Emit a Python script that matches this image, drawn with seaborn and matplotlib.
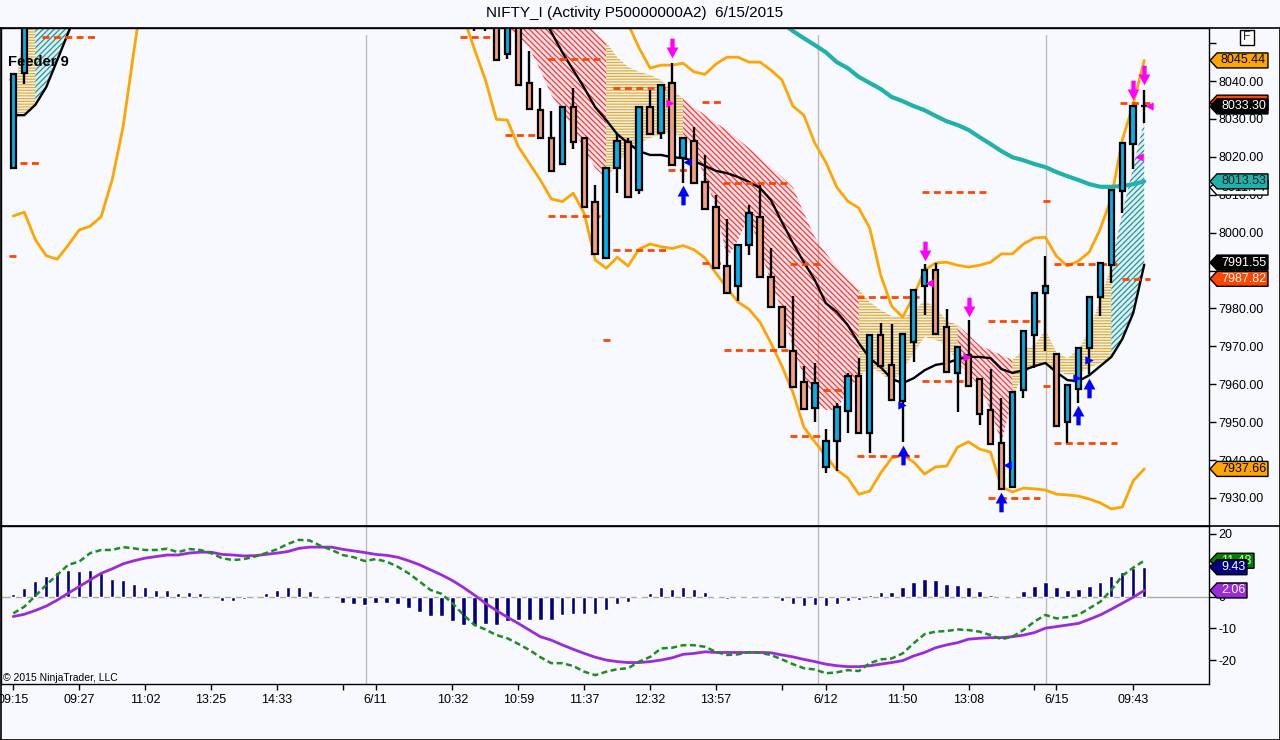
import numpy as np
import matplotlib
matplotlib.use("Agg")
import matplotlib.pyplot as plt
import seaborn as sns
from matplotlib.patches import Polygon, Rectangle
from matplotlib.path import Path
from matplotlib.transforms import IdentityTransform
from matplotlib.lines import Line2D
from matplotlib.colors import to_rgba

# ---------------- data ----------------
candle_bars = [0, 1] + list(range(42, 104))
opens = [8017.1, 8042.2,
         8062.0, 8061.0, 8058.0, 8047.1, 8056.0, 8039.6, 8032.3, 8025.1,
         8018.1, 8033.2, 8025.1, 8008.2, 7993.4, 8017.0, 8024.0, 8011.2, 8033.2, 8026.4,
         8039.4, 8019.6, 8024.2, 8013.4, 8006.8, 7991.3, 7985.9, 7996.7, 8004.2, 7988.2,
         7980.3, 7968.8, 7960.7, 7953.8, 7938.1, 7945.1, 7952.9, 7962.2, 7947.2, 7973.0,
         7965.1, 7955.6, 7971.2, 7985.9, 7990.1, 7975.2, 7963.0, 7967.7, 7961.4, 7953.2,
         7944.6, 7933.0, 7958.5, 7973.0, 7984.1, 7968.0, 7950.1, 7958.7, 7969.5, 7983.1,
         7991.5, 8011.0, 8023.4, 8033.3]
highs = [8041.8, 8058.0,
         8065.0, 8064.0, 8060.0, 8058.0, 8057.0, 8047.9, 8038.1, 8032.1,
         8033.2, 8038.1, 8025.1, 8012.6, 8017.1, 8026.4, 8024.9, 8033.2, 8037.6, 8038.9,
         8044.8, 8025.1, 8027.9, 8020.5, 8009.9, 8003.5, 7996.7, 8007.3, 8012.6, 7996.0,
         7980.3, 7983.3, 7964.8, 7965.7, 7948.1, 7955.1, 7962.9, 7966.8, 7973.0, 7976.1,
         7975.8, 7973.2, 7984.9, 7991.6, 7991.9, 7979.8, 7969.9, 7976.9, 7961.4, 7963.9,
         7956.3, 7957.9, 7974.1, 7984.1, 7993.8, 7968.0, 7959.8, 7969.6, 7983.1, 7992.1,
         8011.2, 8023.7, 8033.4, 8037.6]
lows = [8017.1, 8039.2,
        8053.2, 8053.3, 8045.5, 8045.7, 8038.9, 8032.5, 8025.1, 8016.3,
        8018.1, 8022.2, 8006.8, 7994.4, 7993.4, 8010.4, 8009.3, 8010.2, 8026.0, 8024.6,
        8017.8, 8013.2, 8013.0, 8006.2, 7990.8, 7984.0, 7982.0, 7994.1, 7988.4, 7980.3,
        7969.9, 7959.3, 7953.6, 7950.1, 7936.5, 7937.2, 7947.2, 7947.2, 7941.8, 7964.8,
        7955.8, 7944.7, 7966.0, 7978.3, 7973.2, 7963.3, 7952.8, 7959.6, 7949.2, 7944.2,
        7932.3, 7933.0, 7956.3, 7964.2, 7968.8, 7949.0, 7944.5, 7955.1, 7962.7, 7978.0,
        7986.6, 8005.1, 8016.7, 8029.0]
closes = [8041.8, 8056.0,
          8058.0, 8057.0, 8045.5, 8056.0, 8038.9, 8032.5, 8025.1, 8016.3,
          8033.2, 8024.0, 8006.8, 7994.4, 8017.1, 8024.2, 8009.3, 8033.2, 8026.0, 8038.9,
          8017.8, 8025.1, 8013.0, 8006.2, 7990.8, 7984.0, 7996.7, 8005.1, 7988.4, 7980.3,
          7969.9, 7959.3, 7953.6, 7960.4, 7945.1, 7954.1, 7962.2, 7947.2, 7973.0, 7964.8,
          7955.8, 7973.2, 7984.9, 7990.1, 7973.2, 7963.3, 7969.9, 7959.6, 7952.1, 7944.2,
          7932.3, 7957.9, 7974.1, 7984.1, 7986.0, 7949.0, 7959.8, 7969.6, 7983.1, 7992.1,
          8011.2, 8023.7, 8033.4, 8033.3]

# lower / upper envelope (orange)
lower_band_day1_start = 0
lower_band_day1 = [8004.4, 8005.4, 7998.2, 7993.9, 7993.0, 7996.7, 8000.7, 8001.7,
                   8004.2, 8013.9, 8027.9, 8048.2, 8068.0]
lower_band_start = 41
lower_band = [8057.0, 8048.4, 8040.3, 8029.9, 8029.7, 8022.7, 8018.3, 8013.9, 8008.9,
              8008.2, 8010.4, 8005.1, 7992.8, 7990.6, 7993.5, 7991.2, 7995.7, 7997.0,
              7996.3, 7995.8, 7996.6, 7995.5, 7993.3, 7989.3, 7985.4, 7981.7, 7979.8,
              7976.4, 7970.9, 7964.8, 7957.9, 7948.7, 7944.8, 7941.1, 7937.4, 7935.3,
              7931.0, 7931.8, 7936.6, 7940.5, 7941.3, 7939.5, 7936.3, 7938.2, 7938.4,
              7943.4, 7944.8, 7942.9, 7942.1, 7932.9, 7931.6, 7932.6, 7932.4, 7932.1,
              7931.0, 7930.8, 7930.5, 7929.7, 7928.7, 7927.1, 7927.6, 7934.5, 7937.66]
upper_band_start = 55
upper_band = [8064.0, 8055.0, 8048.7, 8043.4, 8044.2, 8044.2, 8044.7, 8042.4, 8041.8,
              8044.5, 8046.3, 8046.3, 8045.0, 8045.0, 8042.9, 8040.3, 8033.4, 8031.0,
              8023.6, 8018.6, 8012.0, 8008.3, 8006.5, 8001.2, 7988.8, 7980.6, 7977.7,
              7983.3, 7990.1, 7992.0, 7992.2, 7991.4, 7990.9, 7991.4, 7992.2, 7994.4,
              7994.4, 7997.0, 7998.6, 7998.8, 7993.8, 7991.2, 7992.5, 7994.9, 8001.0,
              8009.1, 8024.4, 8033.9, 8045.44]
# slow moving average (teal)
slow_ma_start = 70
slow_ma = [8055.5, 8053.2, 8051.3, 8049.5, 8047.6, 8045.0, 8043.4, 8041.1, 8039.5,
           8037.9, 8035.8, 8034.7, 8033.4, 8032.3, 8030.8, 8029.4, 8028.4, 8027.1,
           8025.2, 8023.4, 8021.5, 8019.9, 8019.1, 8018.1, 8017.3, 8016.0, 8014.9,
           8013.9, 8012.8, 8012.1, 8012.1, 8012.3, 8012.8, 8013.53]
# black moving average
black_ma_day1_start = 0
black_ma_day1 = [8031.0, 8031.0, 8033.7, 8038.4, 8045.5, 8052.7, 8060.0]
black_ma_start = 48
black_ma = [8058.2, 8052.9, 8047.6, 8042.9, 8038.2, 8033.1, 8029.7, 8026.0, 8023.6,
            8021.5, 8020.5, 8020.5, 8019.9, 8019.7, 8018.9, 8017.6, 8016.3, 8015.7,
            8014.7, 8013.4, 8011.8, 8008.6, 8002.8, 7997.3, 7992.2, 7987.5, 7981.4,
            7979.1, 7975.6, 7970.9, 7966.9, 7964.5, 7961.4, 7960.3, 7961.6, 7963.7,
            7965.1, 7965.6, 7966.6, 7967.2, 7967.2, 7966.9, 7964.0, 7963.0, 7963.7,
            7964.8, 7965.6, 7963.2, 7961.1, 7960.8, 7962.4, 7964.8, 7967.2, 7971.9,
            7978.8, 7991.55]
# ribbon outer edges and trend colour per segment (r=down, g=mixed, t=up)
ribbon_day1_start = 0
ribbon_day1_upper = [8032.9, 8056.1, 8058.7, 8058.7, 8058.7, 8058.7, 8058.7]
ribbon_day1_lower = [8031.5, 8031.0, 8033.9, 8038.4, 8045.3, 8052.7, 8058.7]
ribbon_day1_trend = "ggtttt"
ribbon_start = 41
ribbon_upper = [8058.7] * 10 + [
    8058.2, 8055.6, 8052.9, 8050.3, 8046.3, 8043.7, 8042.4, 8041.6, 8040.3, 8037.6,
    8035.5, 8033.1, 8031.0, 8028.9, 8027.1, 8024.7, 8022.3, 8019.9, 8017.3, 8014.7,
    8012.0, 8005.2, 7998.8, 7994.6, 7990.9, 7988.0, 7985.1, 7981.7, 7979.6, 7978.0,
    7977.7, 7979.1, 7982.2, 7980.1, 7976.9, 7975.6, 7973.0, 7970.3, 7969.0, 7967.7,
    7966.4, 7969.0, 7970.3, 7974.3, 7968.5, 7966.9, 7969.0, 7974.3, 7982.2, 7991.4,
    8005.2, 8017.3, 8029.7]
ribbon_lower = [8058.7, 8057.4, 8055.6, 8054.0, 8053.5, 8052.1, 8048.7, 8042.9, 8036.3,
                8032.1, 8027.6, 8021.8, 8017.0, 8014.4, 8017.8, 8021.8, 8023.6, 8025.0,
                8025.8, 8027.1, 8024.4, 8023.1, 8013.9, 8006.8, 7993.3, 7998.0, 8004.6,
                7995.4, 7987.0, 7979.6, 7969.8, 7961.9, 7955.8, 7953.2, 7953.2, 7958.5,
                7961.9, 7964.5, 7963.0, 7960.6, 7963.7, 7968.2, 7972.5, 7971.7, 7970.3,
                7965.6, 7963.0, 7959.3, 7953.2, 7944.5, 7956.6, 7963.0, 7964.5, 7965.6,
                7963.7, 7962.4, 7963.0, 7964.3, 7965.6, 7966.9, 7971.7, 7978.8, 7990.9]
ribbon_trend = "r" * 13 + "g" * 7 + "r" * 16 + "g" * 9 + "r" * 5 + "g" * 9 + "t" * 3

# dashed pivot levels
level_start = [-0.4, -0.4, 0.6, 2.6, 40.7, 44.8, 48.7, 48.7, 53.7, 54.6, 54.6, 59.6,
               62.7, 62.7, 64.6, 64.7, 70.7, 70.7, 73.7, 76.8, 76.8, 82.8, 82.8, 88.8,
               88.8, 93.8, 93.8, 94.8, 94.8, 100.8, 101.0]
level_end = [0.3, 0.3, 2.4, 7.4, 43.7, 48.2, 53.4, 53.4, 54.5, 59.5, 59.5, 61.8,
             64.5, 64.5, 70.6, 70.6, 73.7, 73.7, 75.9, 82.5, 82.5, 88.6, 86.9, 93.5,
             93.5, 94.6, 94.6, 100.5, 100.5, 103.5, 103.5]
level_price = [8040.5, 7993.9, 8018.4, 8051.7, 8051.7, 8025.8, 8045.8, 8004.4, 7971.7,
               8038.2, 7995.4, 8016.5, 8034.5, 7992.1, 8013.2, 7969.0, 7991.6, 7946.3,
               7958.5, 7983.1, 7941.1, 8010.8, 7960.8, 7976.8, 7930.1, 8008.4, 7959.6,
               7991.7, 7944.4, 8034.3, 7987.8]

# signals
sell_arrow_x = [60, 83, 87, 102, 103]
sell_arrow_y = [8048.6, 7995.2, 7980.4, 8037.6, 8041.6]
buy_arrow_x = [61, 81, 90, 97, 98]
buy_arrow_y = [8009.9, 7941.3, 7929.0, 7951.9, 7958.9]
pink_tri_x = [59.8, 83.4, 86.9, 102.5, 103.4]
pink_tri_y = [8034.1, 7986.6, 7967.3, 8020.0, 8033.4]
pink_tri_dir = [">", "<", ">", "<", "<"]
blue_tri_x = [61.4, 80.9, 90.5, 96.9, 98.0]
blue_tri_y = [8018.7, 7954.5, 7938.7, 7961.7, 7966.4]
blue_tri_dir = ["<", ">", "<", ">", ">"]

# MACD panel
macd_hist = [1.06, 2.96, 5.2, 6.8, 8.0, 8.7, 8.1, 8.4, 7.6, 5.8,
             5.5, 4.2, 3.0, 2.3, 2.3, 1.2, 1.7, 1.2, 0.0, -1.4,
             -1.4, -0.8, 0.0, 1.4, 2.3, 3.0, 3.0, 2.0, 0.4, -0.4,
             -1.8, -2.1, -2.4, -1.8, -1.8, -2.2, -3.6, -4.9, -6.1, -6.1,
             -7.7, -8.8, -9.3, -8.6, -8.8, -7.5, -7.2, -7.4, -7.4, -7.4,
             -5.8, -5.4, -5.4, -5.4, -4.0, -2.1, -1.7, 0.4, 1.4, 3.0,
             2.6, 3.0, 2.6, 1.7, 0.4, -0.6, -0.3, 0.3, 0.0, -0.4,
             -1.3, -2.2, -3.0, -2.7, -3.0, -2.3, -1.2, -1.1, 0.7, 1.7,
             1.7, 3.0, 4.6, 5.8, 5.5, 4.2, 3.9, 3.0, 2.0, 0.7,
             -0.4, 0.3, 2.0, 3.6, 4.9, 3.0, 2.3, 2.6, 3.6, 4.9,
             6.5, 8.0, 9.2, 9.43]
macd_line = [-5.2, -3.1, 0.3, 3.8, 7.0, 10.2, 11.2, 13.9, 14.9, 14.9,
             15.8, 15.4, 14.9, 14.9, 15.3, 14.2, 15.2, 14.9, 13.9, 12.3,
             11.7, 12.0, 12.8, 13.9, 15.1, 16.8, 18.1, 17.9, 16.2, 14.9,
             13.3, 12.6, 11.4, 12.0, 11.2, 9.6, 7.5, 4.9, 2.2, 1.0,
             -2.0, -5.7, -8.9, -10.3, -12.1, -13.1, -14.9, -16.8, -19.1, -21.0,
             -21.0, -21.9, -23.7, -24.8, -23.7, -22.9, -22.6, -20.5, -19.0, -16.3,
             -16.1, -15.3, -15.3, -15.8, -17.4, -18.4, -18.2, -17.5, -17.7, -18.4,
             -19.8, -21.3, -22.6, -23.0, -24.2, -23.9, -23.2, -23.5, -21.0, -19.8,
             -19.5, -17.9, -14.7, -11.8, -11.0, -10.8, -10.3, -10.5, -11.0, -12.1,
             -13.4, -12.6, -10.5, -7.8, -5.7, -6.8, -6.4, -5.7, -3.6, -1.5,
             2.2, 6.7, 9.3, 11.48]
macd_signal = [-6.2, -5.5, -4.3, -2.9, -1.0, 1.2, 3.3, 5.4, 7.5, 8.9,
               10.5, 11.5, 12.3, 12.8, 13.3, 13.3, 13.9, 14.2, 14.2, 13.5,
               13.3, 13.0, 13.1, 13.5, 13.9, 14.4, 15.4, 15.8, 15.8, 15.8,
               15.1, 14.6, 14.1, 13.5, 13.2, 12.6, 11.5, 10.2, 8.6, 7.0,
               5.2, 3.0, 0.6, -2.0, -4.3, -6.4, -8.4, -10.5, -12.6, -13.7,
               -15.2, -16.6, -17.9, -19.1, -20.0, -20.5, -20.8, -20.8, -20.5, -20.0,
               -19.3, -18.2, -17.9, -17.4, -17.6, -17.6, -17.6, -17.6, -17.6, -17.7,
               -18.4, -19.0, -19.8, -20.5, -21.3, -21.8, -22.1, -22.1, -21.8, -21.3,
               -20.8, -20.2, -18.7, -17.6, -16.1, -15.2, -14.5, -13.4, -13.1, -12.9,
               -12.9, -12.6, -12.1, -11.3, -9.9, -9.4, -8.9, -8.4, -7.1, -5.7,
               -3.9, -2.0, -0.1, 2.06]

tick_pos = [0, 6, 12, 18, 24, 30, 33, 40, 46, 52, 58, 64, 70, 74, 81, 87, 93, 95, 102]
tick_labels = ["09:15", "09:27", "11:02", "13:25", "14:33", "", "6/11", "10:32", "10:59",
               "11:37", "12:32", "13:57", "", "6/12", "11:50", "13:08", "", "6/15", "09:43"]
day_breaks = [32.1, 73.3, 94.1]
price_ticks = [7930, 7940, 7950, 7960, 7970, 7980, 7990, 8000, 8010, 8020, 8030, 8040, 8050]
macd_ticks = [-20, -10, 0, 10, 20]
macd_tick_labels = ["-20", "-10", "0", "", "20"]   # "10" is hidden behind the value tags

# ---------------- style ----------------
sns.set_theme(style="white")
plt.rcParams["font.family"] = ["Liberation Sans", "DejaVu Sans"]
plt.rcParams["hatch.linewidth"] = 0.85

BG = "#F7F9FE"
UP = "#00B2EE"
DOWN = "#F2A07E"
ORANGE = "#FFA500"
LEVEL = "#FF4500"
TEAL = "#20B2AA"
TREND = {"r": "#FF1A1A", "g": "#DAA520", "t": "#008B8B"}
HATCH = {"r": "\\\\\\\\\\\\", "g": "------", "t": "//////"}

W, H = 1280, 740
fig = plt.figure(figsize=(W / 100, H / 100), dpi=100, facecolor=BG)
ax = fig.add_axes([1 / W, 1 - 526 / H, 1208 / W, (526 - 28) / H])
axm = fig.add_axes([1 / W, 1 - 684 / H, 1208 / W, (684 - 526) / H], sharex=ax)
for a in (ax, axm):
    a.set_facecolor(BG)
    for s in a.spines.values():
        s.set_color("black")
        s.set_linewidth(1.0)

ax.set_xlim(-1.12, 108.9)
ax.set_ylim(7922.6, 8054.0)
axm.set_ylim(-27.6, 22.5)

# day separators
for d in day_breaks:
    ax.axvline(d, ymax=0.986, color="#BDBDBD", lw=1, zorder=0.5)
    axm.axvline(d, color="#BDBDBD", lw=1, zorder=0.5)

# ribbon
def draw_ribbon(start, upper, lower, trend):
    xs = np.arange(start, start + len(upper))
    for i, t in enumerate(trend):
        c = TREND[t]
        ax.fill_between(xs[i:i + 2], lower[i:i + 2], upper[i:i + 2],
                        facecolor=to_rgba(c, 0.10), edgecolor=to_rgba(c, 0.9),
                        hatch=HATCH[t], linewidth=0, zorder=1)

draw_ribbon(ribbon_day1_start, ribbon_day1_upper, ribbon_day1_lower, ribbon_day1_trend)
draw_ribbon(ribbon_start, ribbon_upper, ribbon_lower, ribbon_trend)

# lines
def line(start, vals, **kw):
    xs = np.arange(start, start + len(vals))
    sns.lineplot(x=xs, y=vals, ax=ax, sort=False, **kw)

line(lower_band_day1_start, lower_band_day1, color=ORANGE, lw=2, zorder=2)
line(lower_band_start, lower_band, color=ORANGE, lw=2, zorder=2)
line(upper_band_start, upper_band, color=ORANGE, lw=2, zorder=2)
line(slow_ma_start, slow_ma, color=TEAL, lw=3, zorder=2)
line(black_ma_day1_start, black_ma_day1, color="black", lw=1.7, zorder=2.5)
line(black_ma_start, black_ma, color="black", lw=1.7, zorder=2.5)

# dashed levels
for x0, x1, p in zip(level_start, level_end, level_price):
    ax.plot([x0, x1], [p, p], color=LEVEL, lw=2, ls=(0, (2.5, 1.6)), zorder=2.8,
            solid_capstyle="butt", dash_capstyle="butt")

# candles
o = np.array(opens); c = np.array(closes)
hi = np.array(highs); lo = np.array(lows)
cols = [UP if cc >= oo else DOWN for oo, cc in zip(o, c)]
ax.vlines(candle_bars, lo, hi, color="black", lw=1.7, zorder=3)
ax.bar(candle_bars, np.abs(c - o), bottom=np.minimum(o, c), width=0.5,
       color=cols, edgecolor="black", linewidth=1.6, zorder=4)

# arrows
down_path = Path([(-0.22, 1.0), (0.22, 1.0), (0.22, 0.1), (0.6, 0.1), (0.0, -1.0),
                  (-0.6, 0.1), (-0.22, 0.1), (-0.22, 1.0)],
                 [Path.MOVETO] + [Path.LINETO] * 6 + [Path.CLOSEPOLY])
up_path = Path([(x, -y) for x, y in down_path.vertices], down_path.codes)
ax.scatter(sell_arrow_x, sell_arrow_y, marker=down_path, s=200, color="#FF00FF",
           linewidths=0, zorder=7)
ax.scatter(buy_arrow_x, buy_arrow_y, marker=up_path, s=200, color="#0000FF",
           linewidths=0, zorder=7)
for x, y, m in zip(pink_tri_x, pink_tri_y, pink_tri_dir):
    ax.scatter([x], [y], marker=m, s=36, color="#FF00FF", linewidths=0, zorder=7)
for x, y, m in zip(blue_tri_x, blue_tri_y, blue_tri_dir):
    ax.scatter([x], [y], marker=m, s=36, color="#0000FF", linewidths=0, zorder=7)

ax.set_xlabel(""); ax.set_ylabel("")

# price axis
ax.yaxis.tick_right()
ax.set_yticks(price_ticks)
ax.set_yticklabels([f"{v:.2f}" if v != 8050 else "" for v in price_ticks])
ax.tick_params(axis="y", right=True, left=False, direction="out", length=5, width=1,
               labelsize=9, pad=2, colors="black")
ax.tick_params(axis="x", bottom=False, labelbottom=False)

# MACD panel
bars = np.arange(len(macd_hist))
axm.axhline(0, color="#AAAAAA", lw=1, zorder=0.6)
axm.bar(bars, macd_hist, width=0.4, color="#000080", zorder=2)
sns.lineplot(x=bars, y=macd_signal, ax=axm, color="#9A2BD8", lw=2, zorder=3)
sns.lineplot(x=bars, y=macd_line, ax=axm, color="#1E8C1E", lw=1.8, zorder=3.5,
             linestyle=(0, (2.4, 1.4)))
axm.set_xlabel(""); axm.set_ylabel("")
axm.yaxis.tick_right()
axm.set_yticks(macd_ticks)
axm.set_yticklabels(macd_tick_labels)
axm.tick_params(axis="y", right=True, left=False, direction="out", length=5, width=1,
                labelsize=9, pad=2, colors="black")
axm.set_xticks(tick_pos)
axm.set_xticklabels(tick_labels)
axm.tick_params(axis="x", bottom=True, direction="out", length=4, width=1,
                labelsize=9, pad=3, colors="black")
axm.set_xlim(-1.12, 108.9)

# figure frame lines
def hline_px(y, x0=0, x1=W, lw=1.2):
    fig.add_artist(Line2D([x0, x1], [H - y, H - y], transform=IdentityTransform(),
                          color="black", lw=lw))

def vline_px(x, y0, y1, lw=1.2):
    fig.add_artist(Line2D([x, x], [H - y0, H - y1], transform=IdentityTransform(),
                          color="black", lw=lw))

hline_px(27.5)
hline_px(526)
hline_px(739.5)
vline_px(0.5, 27.5, 739.5)
vline_px(1279.5, 27.5, 739.5)

# value tags on the right axis (each later tag drawn above the previous one)
tag_z = [20.0]

def tag(axis, val, text, fc, tc, ec="black", x0=1210, h=7.5, show_text=True):
    yd = axis.transData.transform((0, val))[1]
    w = 7 * len(text) + 9
    z = tag_z[0]
    tag_z[0] += 1
    pts = [(x0, yd), (x0 + 7, yd + h), (x0 + w, yd + h), (x0 + w, yd - h), (x0 + 7, yd - h)]
    fig.add_artist(Polygon(pts, closed=True, transform=IdentityTransform(), fc=fc, ec=ec,
                           lw=1, zorder=z))
    if show_text:
        fig.text((x0 + (7 + w) / 2 + 1) / W, yd / H, text, ha="center", va="center",
                 color=tc, fontsize=9, zorder=z + 0.5)

tag(ax, 8045.44, "8045.44", ORANGE, "black")
tag(ax, 8034.3, "8034.30", LEVEL, "white", show_text=False)
tag(ax, 8033.30, "8033.30", "black", "white")
tag(ax, 8011.9, "8011.74", "white", "black")
tag(ax, 8013.53, "8013.53", TEAL, "#102020")
tag(ax, 7992.1, "7991.55", "black", "white")
tag(ax, 7987.82, "7987.82", LEVEL, "white")
tag(ax, 7937.66, "7937.66", ORANGE, "black")
tag(axm, 11.48, "11.48", "#008000", "#D8FFB0")
tag(axm, 9.43, "9.43", "#000080", "white")
tag(axm, 2.06, "2.06", "#9A2BD8", "white")

# "F" box
fig.add_artist(Rectangle((1240, H - 45), 14, 15, transform=IdentityTransform(),
                         fc="white", ec="black", lw=1, zorder=10))
fig.text(1247 / W, (H - 37.5) / H, "F", ha="center", va="center", fontsize=9, zorder=11)

# texts
fig.text(635 / W, 1 - 13 / H, "NIFTY_I (Activity P50000000A2)  6/15/2015",
         ha="center", va="center", fontsize=11, color="black")
fig.text(8 / W, 1 - 62 / H, "Feeder 9", ha="left", va="center", fontsize=10.5,
         fontweight="bold", color="black", zorder=12)
fig.text(3 / W, 1 - 678 / H, "\u00a9 2015 NinjaTrader, LLC", ha="left", va="center",
         fontsize=7.5, color="black", zorder=12)

fig.savefig("out.png", dpi=100, facecolor=BG)
